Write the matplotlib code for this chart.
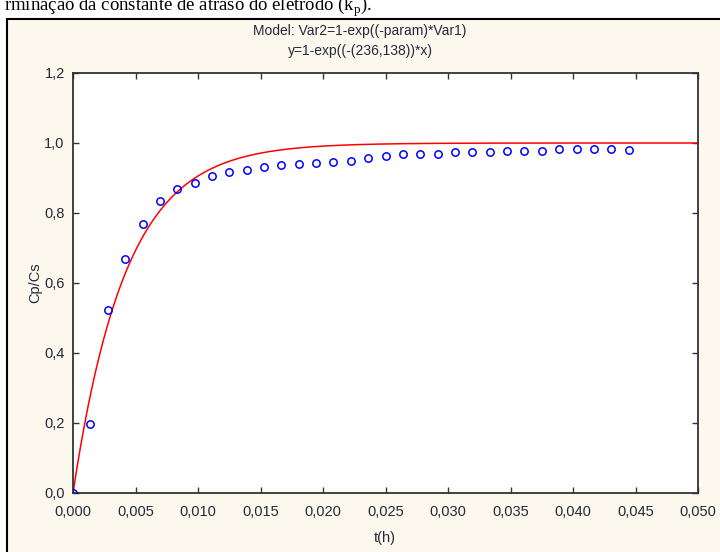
import numpy as np
import matplotlib
matplotlib.use('Agg')
import matplotlib.pyplot as plt
from matplotlib.patches import Rectangle
from matplotlib.ticker import MultipleLocator, FuncFormatter

# measured response of the electrode (time in hours, Cp/Cs)
t_h = [0.0, 0.00139, 0.00278, 0.00417, 0.00556, 0.00694, 0.00833, 0.00972,
       0.01111, 0.01250, 0.01389, 0.01528, 0.01667, 0.01806, 0.01944, 0.02083,
       0.02222, 0.02361, 0.02500, 0.02639, 0.02778, 0.02917, 0.03056, 0.03194,
       0.03333, 0.03472, 0.03611, 0.03750, 0.03889, 0.04028, 0.04167, 0.04306,
       0.04444]
cp_cs = [0.0, 0.198, 0.524, 0.668, 0.768, 0.835, 0.870, 0.887,
         0.905, 0.918, 0.923, 0.931, 0.936, 0.940, 0.942, 0.947,
         0.948, 0.956, 0.964, 0.969, 0.969, 0.970, 0.973, 0.973,
         0.975, 0.977, 0.977, 0.977, 0.982, 0.982, 0.982, 0.982,
         0.980]

# fitted parameter of y = 1 - exp(-k*x)
k_fit = 236.138

W, H = 720, 552
txt_color = '#222a3a'


def fx(px):
    return px / W


def fy(py):
    return 1 - py / H


fig = plt.figure(figsize=(7.2, 5.52), dpi=100)
fig.patch.set_facecolor('white')

# caption line of the page, cut at the top
fig.text(fx(4), fy(11), 'rminação da constante de atraso do eletrodo (k$_\\mathregular{p}$).',
         fontsize=13.5, family='Liberation Serif', color='black', va='baseline', ha='left')

# graph window
frame = Rectangle((fx(7), fy(560)), fx(730) - fx(7), fy(19) - fy(560),
                  transform=fig.transFigure, facecolor='#fdf8ee', edgecolor='black',
                  linewidth=1.5, zorder=-5)
fig.patches.append(frame)

fig.text(fx(360), fy(31), 'Model: Var2=1-exp((-param)*Var1)', fontsize=10,
         family='Liberation Sans', color=txt_color, ha='center', va='center')
fig.text(fx(360), fy(51), 'y=1-exp((-(236,138))*x)', fontsize=10,
         family='Liberation Sans', color=txt_color, ha='center', va='center')

ax = fig.add_axes([fx(73), fy(493), fx(698) - fx(73), fy(73) - fy(493)])
ax.set_zorder(3)
ax.set_facecolor('white')

x_fit = np.linspace(0, 0.05, 500)
ax.plot(x_fit, 1 - np.exp(-k_fit * x_fit), color='#ff0000', linewidth=1.1, zorder=2)
ax.plot(t_h, cp_cs, linestyle='none', marker='o', ms=5.3, mfc='none',
        mec='#0000ff', mew=1.1, zorder=3)

ax.set_xlim(0, 0.05)
ax.set_ylim(0, 1.2)
ax.xaxis.set_major_locator(MultipleLocator(0.005))
ax.yaxis.set_major_locator(MultipleLocator(0.2))
ax.xaxis.set_major_formatter(FuncFormatter(lambda v, p: f'{v:.3f}'.replace('.', ',')))
ax.yaxis.set_major_formatter(FuncFormatter(lambda v, p: f'{v:.1f}'.replace('.', ',')))

ax.tick_params(direction='in', top=True, right=True, length=4, width=1,
               color='#333333', labelcolor=txt_color, labelsize=10.5)
ax.tick_params(axis='x', pad=9)
ax.tick_params(axis='y', pad=6)
for lab in ax.get_xticklabels() + ax.get_yticklabels():
    lab.set_family('Liberation Sans')
for s in ax.spines.values():
    s.set_color('#333333')
    s.set_linewidth(1.3)

fig.text(fx(385), fy(538), 't(h)', fontsize=10.5, family='Liberation Sans',
         color=txt_color, ha='center', va='center')
fig.text(fx(35), fy(283), 'Cp/Cs', fontsize=10.5, family='Liberation Sans',
         color=txt_color, ha='center', va='center', rotation=90)

plt.savefig('out.png', dpi=100)
